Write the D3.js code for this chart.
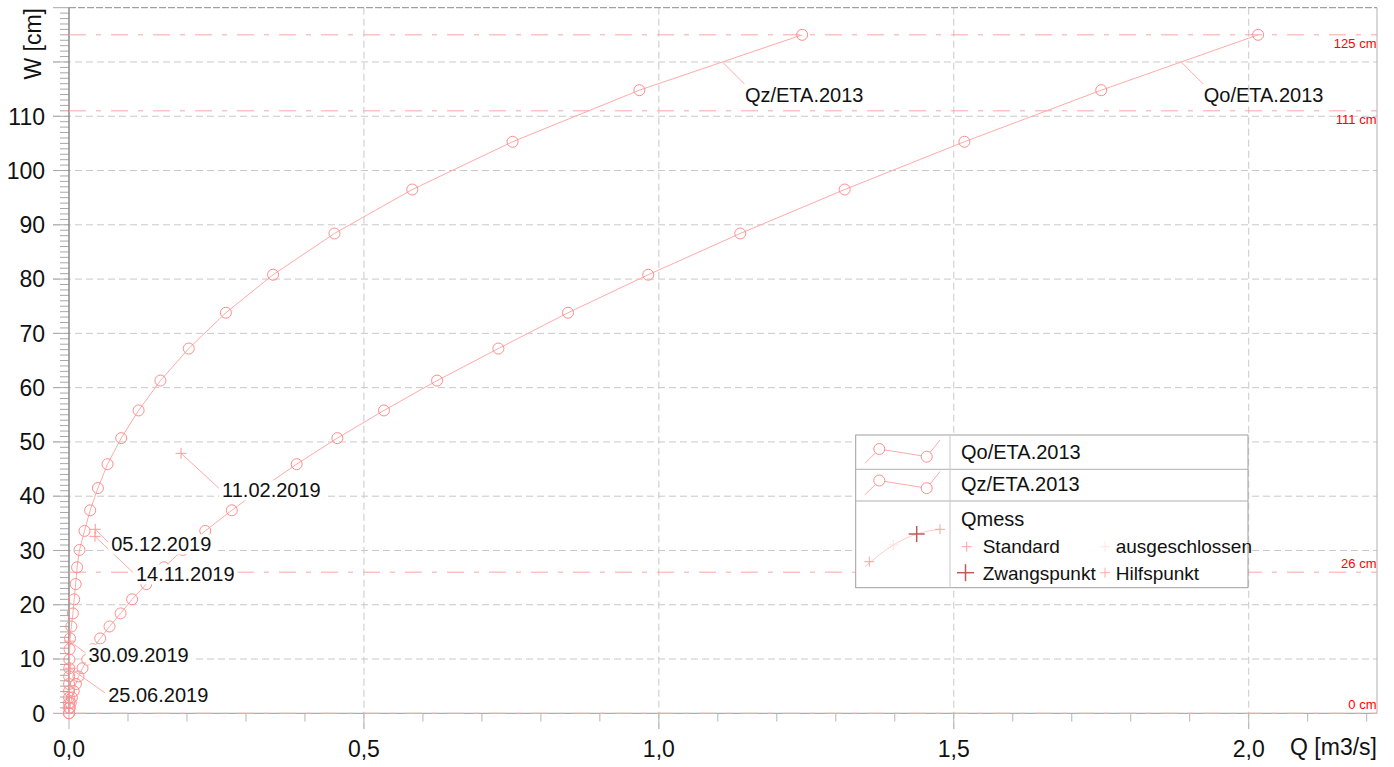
<!DOCTYPE html>
<html>
<head>
<meta charset="utf-8">
<script src="https://cdn.jsdelivr.net/npm/d3@7"></script>
<style>
  body { margin: 0; background: #fff; }
  svg { display: block; }
  text { font-family: "Liberation Sans", Arial, sans-serif; fill: #111; }
</style>
</head>
<body>
<svg id="chart" width="1394" height="767"></svg>
<script>
// Water levels (cm) of the rating table steps, shared by both curves
const stufenW = [125, 114.8, 105.3, 96.5, 88.4, 80.8, 73.8, 67.2, 61.3, 55.8, 50.7, 45.9,
  41.5, 37.4, 33.6, 30.1, 26.9, 23.8, 21.0, 18.4, 16.0, 13.8, 11.8, 9.9, 8.3, 6.8, 5.4,
  4.1, 2.9, 1.9, 1.0, 0];
// Discharge (m3/s) of the upper rating curve Qo/ETA.2013
const qoETA2013 = [2.016, 1.750, 1.518, 1.315, 1.138, 0.982, 0.846, 0.728, 0.624, 0.534,
  0.455, 0.386, 0.327, 0.276, 0.231, 0.193, 0.161, 0.131, 0.107, 0.0874, 0.0687, 0.0529,
  0.040, 0.031, 0.0229, 0.0161, 0.0117, 0.008, 0.005, 0.003, 0.0013, 0];
// Discharge (m3/s) of the lower rating curve Qz/ETA.2013
const qzETA2013 = [1.243, 0.967, 0.752, 0.582, 0.450, 0.346, 0.266, 0.203, 0.155, 0.118,
  0.0885, 0.0653, 0.049, 0.0359, 0.0263, 0.0178, 0.0137, 0.0113, 0.0088, 0.0066, 0.0040,
  0.0018, 0.0010, 0.0006, 0.0004, 0.0003, 0.0002, 0.00015, 0.0001, 0.00005, 0.00002, 0];
// Discharge measurements (Qmess)
const messDatum = ["11.02.2019", "05.12.2019", "14.11.2019", "30.09.2019", "25.06.2019"];
const messQ = [0.190, 0.0445, 0.0440, 0.0010, 0.0020];
const messW = [47.9, 33.9, 32.6, 13.3, 8.3];
// Marked water levels (cm)
const grenzW = [125, 111, 26, 0];
// Axis ticks
const xTickValues = [0, 0.5, 1.0, 1.5, 2.0];
const yTickValues = [0, 10, 20, 30, 40, 50, 60, 70, 80, 90, 100, 110];
const kurvenNamen = ["Qo/ETA.2013", "Qz/ETA.2013"];
const legendeMess = ["Standard", "ausgeschlossen", "Zwangspunkt", "Hilfspunkt"];

const svg = d3.select("#chart");
const x = d3.scaleLinear().domain([0, 2.2175]).range([69, 1377]);
const y = d3.scaleLinear().domain([0, 130]).range([713.3, 7.7]);
const fmt = v => d3.format(".1f")(v).replace(".", ",");

const curveStroke = "rgb(255,170,170)";
const circleStroke = "rgb(255,140,140)";
const refStroke = "rgb(255,165,165)";
const gridStroke = "#c9c9c9";

// grid
const grid = svg.append("g");
grid.selectAll("line.h").data(d3.range(10, 130, 10)).join("line")
  .attr("x1", 53).attr("x2", x.range()[1])
  .attr("y1", d => y(d)).attr("y2", d => y(d))
  .attr("stroke", gridStroke).attr("stroke-dasharray", "7,4");
grid.selectAll("line.v").data(xTickValues.filter(d => d > 0)).join("line")
  .attr("x1", d => x(d)).attr("x2", d => x(d))
  .attr("y1", y(130)).attr("y2", 729)
  .attr("stroke", gridStroke).attr("stroke-dasharray", "7,4");

// frame
svg.append("line").attr("x1", x(0)).attr("x2", x.range()[1]).attr("y1", y(130)).attr("y2", y(130))
  .attr("stroke", "#8c8c8c").attr("stroke-dasharray", "7,2");
svg.append("line").attr("x1", x.range()[1]).attr("x2", x.range()[1]).attr("y1", y(130)).attr("y2", y(0))
  .attr("stroke", "#b0b0b0");
svg.append("line").attr("x1", x(0)).attr("x2", x.range()[1]).attr("y1", y(0)).attr("y2", y(0))
  .attr("stroke", "#999");

// y axis with 1 cm minor ticks
const yAxisG = svg.append("g");
yAxisG.selectAll("line").data(d3.range(0, 131, 1)).join("line")
  .attr("x1", d => d % 10 === 0 ? 53 : 60).attr("x2", x(0))
  .attr("y1", d => y(d)).attr("y2", d => y(d))
  .attr("stroke", "#a8a8a8");
svg.append("line").attr("x1", x(0)).attr("x2", x(0)).attr("y1", y(130)).attr("y2", y(0))
  .attr("stroke", "#8a8a8a").attr("stroke-width", 1.5);
yAxisG.selectAll("text").data(yTickValues).join("text")
  .attr("x", 45).attr("y", d => y(d)).attr("dy", "0.36em")
  .attr("text-anchor", "end").attr("font-size", 23)
  .text(d => d);
svg.append("text").attr("transform", `translate(41,8) rotate(-90)`)
  .attr("text-anchor", "end").attr("font-size", 23).text("W [cm]");

// x axis with 0.1 minor ticks
const xAxisG = svg.append("g");
xAxisG.selectAll("line").data(d3.range(0, 23, 1).map(i => i / 10)).join("line")
  .attr("x1", d => x(d)).attr("x2", d => x(d))
  .attr("y1", y(0)).attr("y2", d => Math.round(d * 10) % 5 === 0 ? 729 : 721.5)
  .attr("stroke", "#b5b5b5");
xAxisG.selectAll("text").data(xTickValues).join("text")
  .attr("x", d => x(d)).attr("y", 756.5)
  .attr("text-anchor", "middle").attr("font-size", 23)
  .text(fmt);
svg.append("text").attr("x", x.range()[1]).attr("y", 755)
  .attr("text-anchor", "end").attr("font-size", 23).text("Q [m3/s]");

// marked water levels
const refG = svg.append("g");
refG.selectAll("line").data(grenzW).join("line")
  .attr("x1", x(0)).attr("x2", x.range()[1])
  .attr("y1", d => y(d)).attr("y2", d => y(d))
  .attr("stroke", refStroke).attr("stroke-dasharray", "17,10,5,10");
refG.selectAll("text").data(grenzW).join("text")
  .attr("x", x.range()[1] - 0.5)
  .attr("y", d => d > 50 ? y(d) + 13 : y(d) - 4)
  .attr("text-anchor", "end").attr("font-size", 13)
  .style("fill", "#ff0000")
  .text(d => `${d} cm`);

// rating curves
const kurven = [qoETA2013, qzETA2013].map((qs, i) => ({
  name: kurvenNamen[i],
  pts: qs.map((q, j) => ({ q, w: stufenW[j] }))
}));
const line = d3.line().x(d => x(d.q)).y(d => y(d.w));
const curveG = svg.append("g");
kurven.forEach(k => {
  curveG.append("path").datum(k.pts).attr("d", line)
    .attr("fill", "none").attr("stroke", curveStroke).attr("stroke-width", 1);
  curveG.selectAll(null).data(k.pts).join("circle")
    .attr("cx", d => x(d.q)).attr("cy", d => y(d.w)).attr("r", 5.5)
    .attr("fill", "none").attr("stroke", circleStroke).attr("stroke-width", 1);
});

// curve name labels with leaders from the curve at W = 120 cm
function qAt(pts, w) {
  for (let i = 0; i < pts.length - 1; i++) {
    const a = pts[i], b = pts[i + 1];
    if ((a.w - w) * (b.w - w) <= 0) {
      const t = (w - a.w) / (b.w - a.w);
      return a.q + t * (b.q - a.q);
    }
  }
  return pts[0].q;
}
kurven.forEach(k => {
  const px = x(qAt(k.pts, 120)), py = y(120);
  svg.append("line").attr("x1", px).attr("y1", py).attr("x2", px + 22).attr("y2", py + 22)
    .attr("stroke", curveStroke);
  svg.append("text").attr("x", px + 22.5).attr("y", py + 40)
    .attr("font-size", 20).text(k.name);
});

// measurements
function plus(g, cx, cy, size, color, width) {
  g.append("line").attr("x1", cx - size / 2).attr("x2", cx + size / 2).attr("y1", cy).attr("y2", cy)
    .attr("stroke", color).attr("stroke-width", width);
  g.append("line").attr("x1", cx).attr("x2", cx).attr("y1", cy - size / 2).attr("y2", cy + size / 2)
    .attr("stroke", color).attr("stroke-width", width);
}
const labelOffsets = [[41, 44], [16, 22], [41, 45], [19, 20.5], [38, 33.5]];
const messG = svg.append("g");
const messPts = messDatum.map((d, i) => ({ d, q: messQ[i], w: messW[i] }));
messPts.forEach((m, i) => {
  const px = x(m.q), py = y(m.w);
  const [dx, dy] = labelOffsets[i];
  messG.append("line").attr("x1", px).attr("y1", py).attr("x2", px + dx - 2).attr("y2", py + dy - 8)
    .attr("stroke", curveStroke);
  plus(messG, px, py, 11, "rgb(255,150,150)", 1);
});
const labelG = svg.append("g");
messPts.forEach((m, i) => {
  const px = x(m.q), py = y(m.w);
  const [dx, dy] = labelOffsets[i];
  const g = labelG.append("g");
  const t = g.append("text").attr("x", px + dx).attr("y", py + dy)
    .attr("font-size", 20).text(m.d);
  const bb = t.node().getBBox();
  g.insert("rect", "text").attr("x", bb.x - 3).attr("y", bb.y + 1)
    .attr("width", bb.width + 6).attr("height", bb.height - 2).attr("fill", "#fff");
});

// legend
const lg = svg.append("g");
const L = { x0: 855.7, x1: 1248, y0: 435, y1: 587.7, xd: 950, r1: 469.3, r2: 501 };
lg.append("rect").attr("x", L.x0).attr("y", L.y0).attr("width", L.x1 - L.x0).attr("height", L.y1 - L.y0)
  .attr("fill", "#fff").attr("stroke", "#a0a0a0");
[L.r1, L.r2].forEach(ry => lg.append("line").attr("x1", L.x0).attr("x2", L.x1).attr("y1", ry).attr("y2", ry)
  .attr("stroke", "#b0b0b0"));
lg.append("line").attr("x1", L.xd).attr("x2", L.xd).attr("y1", L.y0).attr("y2", L.y1).attr("stroke", "#c8c8c8");
kurvenNamen.forEach((n, i) => {
  const oy = i * 31.5;
  const sample = [[865, 463.3 + oy], [879.3, 449 + oy], [926.7, 456.7 + oy], [940, 440 + oy]];
  lg.append("path").attr("d", d3.line()(sample)).attr("fill", "none").attr("stroke", curveStroke);
  [sample[1], sample[2]].forEach(p => lg.append("circle").attr("cx", p[0]).attr("cy", p[1]).attr("r", 5.5)
    .attr("fill", "#fff").attr("stroke", circleStroke));
  lg.append("text").attr("x", 961).attr("y", 459 + oy).attr("font-size", 20).text(n);
});
const messSample = [[865, 566.7], [893.3, 545], [916.7, 534], [940, 529.3]];
lg.append("path").attr("d", d3.line().curve(d3.curveMonotoneX)(messSample)).attr("fill", "none")
  .attr("stroke", "rgb(255,205,205)");
plus(lg, 869.3, 561.7, 10, "rgb(255,160,160)", 1);
plus(lg, 893.3, 545, 10, "rgb(255,225,225)", 1);
plus(lg, 916.7, 534, 16, "rgb(190,90,90)", 1.5);
plus(lg, 940, 529.3, 10, "rgb(255,160,160)", 1);
lg.append("text").attr("x", 961).attr("y", 525.5).attr("font-size", 20).text("Qmess");
const legendPlus = [
  { x: 966.7, y: 546.7, s: 10, c: "rgb(255,160,160)", w: 1 },
  { x: 1105, y: 546.7, s: 10, c: "rgb(255,228,228)", w: 1 },
  { x: 965.5, y: 572.7, s: 17, c: "rgb(190,90,90)", w: 1.5 },
  { x: 1105, y: 572.7, s: 10, c: "rgb(255,170,170)", w: 1 }
];
legendeMess.forEach((n, i) => {
  const p = legendPlus[i];
  plus(lg, p.x, p.y, p.s, p.c, p.w);
  lg.append("text").attr("x", i % 2 === 0 ? 982.7 : 1115.7).attr("y", i < 2 ? 553 : 579.5)
    .attr("font-size", 19).text(n);
});
</script>
</body>
</html>
